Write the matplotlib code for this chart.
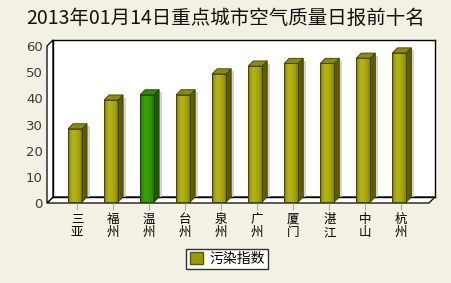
import numpy as np
import matplotlib
matplotlib.use('Agg')
import matplotlib.pyplot as plt
from matplotlib.patches import Polygon, Rectangle, Patch
from matplotlib.transforms import ScaledTranslation

plt.rcParams['font.family'] = ['Noto Sans CJK SC', 'DejaVu Sans']

# data
cities = ['三亚', '福州', '温州', '台州', '泉州', '广州', '厦门', '湛江', '中山', '杭州']
values = [28, 39, 41, 41, 49, 52, 53, 53, 55, 57]
highlight = '温州'
yticks = [0, 10, 20, 30, 40, 50, 60]
title = '2013年01月14日重点城市空气质量日报前十名'
legend_label = '污染指数'

W, H, DPI = 451, 283, 100
BG = '#f3f1e3'

fig = plt.figure(figsize=(W / DPI, H / DPI), dpi=DPI, facecolor=BG)

# back wall of the 3d box, in pixels
wl, wr, wt, wb = 53, 435, 40, 197
ax = fig.add_axes([wl / W, (H - wb) / H, (wr - wl) / W, (wb - wt) / H])
ax.set_facecolor('white')
xmin, xmax = -0.75, 9.85
ymin, ymax = 0, 60
ax.set_xlim(xmin, xmax)
ax.set_ylim(ymin, ymax)

px_x = (wr - wl) / (xmax - xmin)
px_y = (wb - wt) / (ymax - ymin)

bar_depth = 5
floor_depth = 6
bdx, bdy = bar_depth / px_x, bar_depth / px_y
fdx, fdy = floor_depth / px_x, floor_depth / px_y
w = 14 / px_x

for s in ax.spines.values():
    s.set_color('black')
    s.set_linewidth(1)

# floor and left wall
floor = Polygon([(xmin, 0), (xmax, 0), (xmax - fdx, -fdy), (xmin - fdx, -fdy)],
                closed=True, facecolor='white', edgecolor='black', lw=0.9,
                clip_on=False, zorder=1)
lwall = Polygon([(xmin, 0), (xmin, ymax), (xmin - fdx, ymax - fdy), (xmin - fdx, -fdy)],
                closed=True, facecolor='white', edgecolor='black', lw=0.9,
                clip_on=False, zorder=1)
ax.add_patch(floor)
ax.add_patch(lwall)


def gradient(stops, n=64):
    pos = np.linspace(0, 1, n)
    ps = [p for p, _ in stops]
    cols = [matplotlib.colors.to_rgb(c) for _, c in stops]
    rgb = np.stack([np.interp(pos, ps, [c[k] for c in cols]) for k in range(3)], axis=-1)
    return rgb[np.newaxis, :, :]


olive_front = gradient([(0, '#6f6f00'), (0.15, '#9c9c08'), (0.4, '#b6b61c'), (0.75, '#a4a40a'), (1, '#8a8a00')])
green_front = gradient([(0, '#226e00'), (0.15, '#2e8c02'), (0.4, '#3ca20c'), (0.75, '#349404'), (1, '#2a8000')])
olive_side, olive_top, olive_edge = '#5e5e00', '#8c8c0c', '#3e3e00'
green_side, green_top, green_edge = '#1f5a00', '#2f8a04', '#174000'

x = np.arange(len(cities))
bars = ax.bar(x - bdx, values, width=w, bottom=-bdy, color='none',
              edgecolor='none', zorder=4, clip_on=False)

for xi, v, city, rect in zip(x, values, cities, bars):
    hi = city == highlight
    front = green_front if hi else olive_front
    side_c = green_side if hi else olive_side
    top_c = green_top if hi else olive_top
    edge_c = green_edge if hi else olive_edge
    xl = xi - bdx - w / 2
    xr = xi - bdx + w / 2

    # faint shadow on the back wall
    ax.add_patch(Rectangle((xr + bdx, 0), 2.5 / px_x, v - 1, facecolor='#d4d4d4',
                           edgecolor='none', zorder=2))

    im = ax.imshow(front, extent=[xl, xr, -bdy, v - bdy], aspect='auto',
                   interpolation='bilinear', zorder=4)
    im.set_clip_path(rect)
    ax.add_patch(Rectangle((xl, -bdy), w, v, facecolor='none', edgecolor=edge_c,
                           lw=0.6, zorder=5, clip_on=False))
    side = Polygon([(xr, -bdy), (xr, v - bdy), (xr + bdx, v), (xr + bdx, 0)],
                   closed=True, facecolor=side_c, edgecolor=edge_c, lw=0.6,
                   zorder=4, clip_on=False)
    top = Polygon([(xl, v - bdy), (xr, v - bdy), (xr + bdx, v), (xl + bdx, v)],
                  closed=True, facecolor=top_c, edgecolor=edge_c, lw=0.6,
                  zorder=5, clip_on=False)
    ax.add_patch(side)
    ax.add_patch(top)

ax.set_xlim(xmin, xmax)
ax.set_ylim(ymin, ymax)

# y axis labels sit on the front plane
ax.set_yticks(yticks)
ax.set_yticklabels([str(t) for t in yticks], fontsize=9.5, color='#3a3a3a',
                   family='DejaVu Sans')
ax.tick_params(axis='y', length=0, pad=3)
yshift = ScaledTranslation(-floor_depth / DPI, -6 / DPI, fig.dpi_scale_trans)
for lab in ax.get_yticklabels():
    lab.set_transform(lab.get_transform() + yshift)

# x ticks and stacked city labels on the floor front edge
ax.set_xticks(x)
ax.set_xticklabels(['\n'.join(c) for c in cities], fontsize=9, linespacing=1.05,
                   color='black')
ax.tick_params(axis='x', length=5, width=0.8, color='#aaaaaa', pad=2)
xshift = ScaledTranslation(-3 / DPI, -floor_depth / DPI, fig.dpi_scale_trans)
for t in ax.xaxis.get_major_ticks():
    t.tick1line.set_transform(t.tick1line.get_transform() + xshift)
    t.label1.set_transform(t.label1.get_transform() + xshift)

fig.text(0.5, 1 - 18 / H, title, ha='center', va='center', fontsize=14,
         color='#111111', fontweight='light')

leg = fig.legend(handles=[Patch(facecolor='#9a9a10', edgecolor='#5a5a00')],
                 labels=[legend_label], loc='center',
                 bbox_to_anchor=(227 / W, 1 - 259 / H), fontsize=10,
                 frameon=True, fancybox=False, edgecolor='black',
                 handlelength=1.0, handleheight=1.0, handletextpad=0.4,
                 borderpad=0.25, borderaxespad=0)
leg.get_frame().set_facecolor('white')
leg.get_frame().set_linewidth(1)

fig.savefig('out.png', dpi=DPI, facecolor=BG)
